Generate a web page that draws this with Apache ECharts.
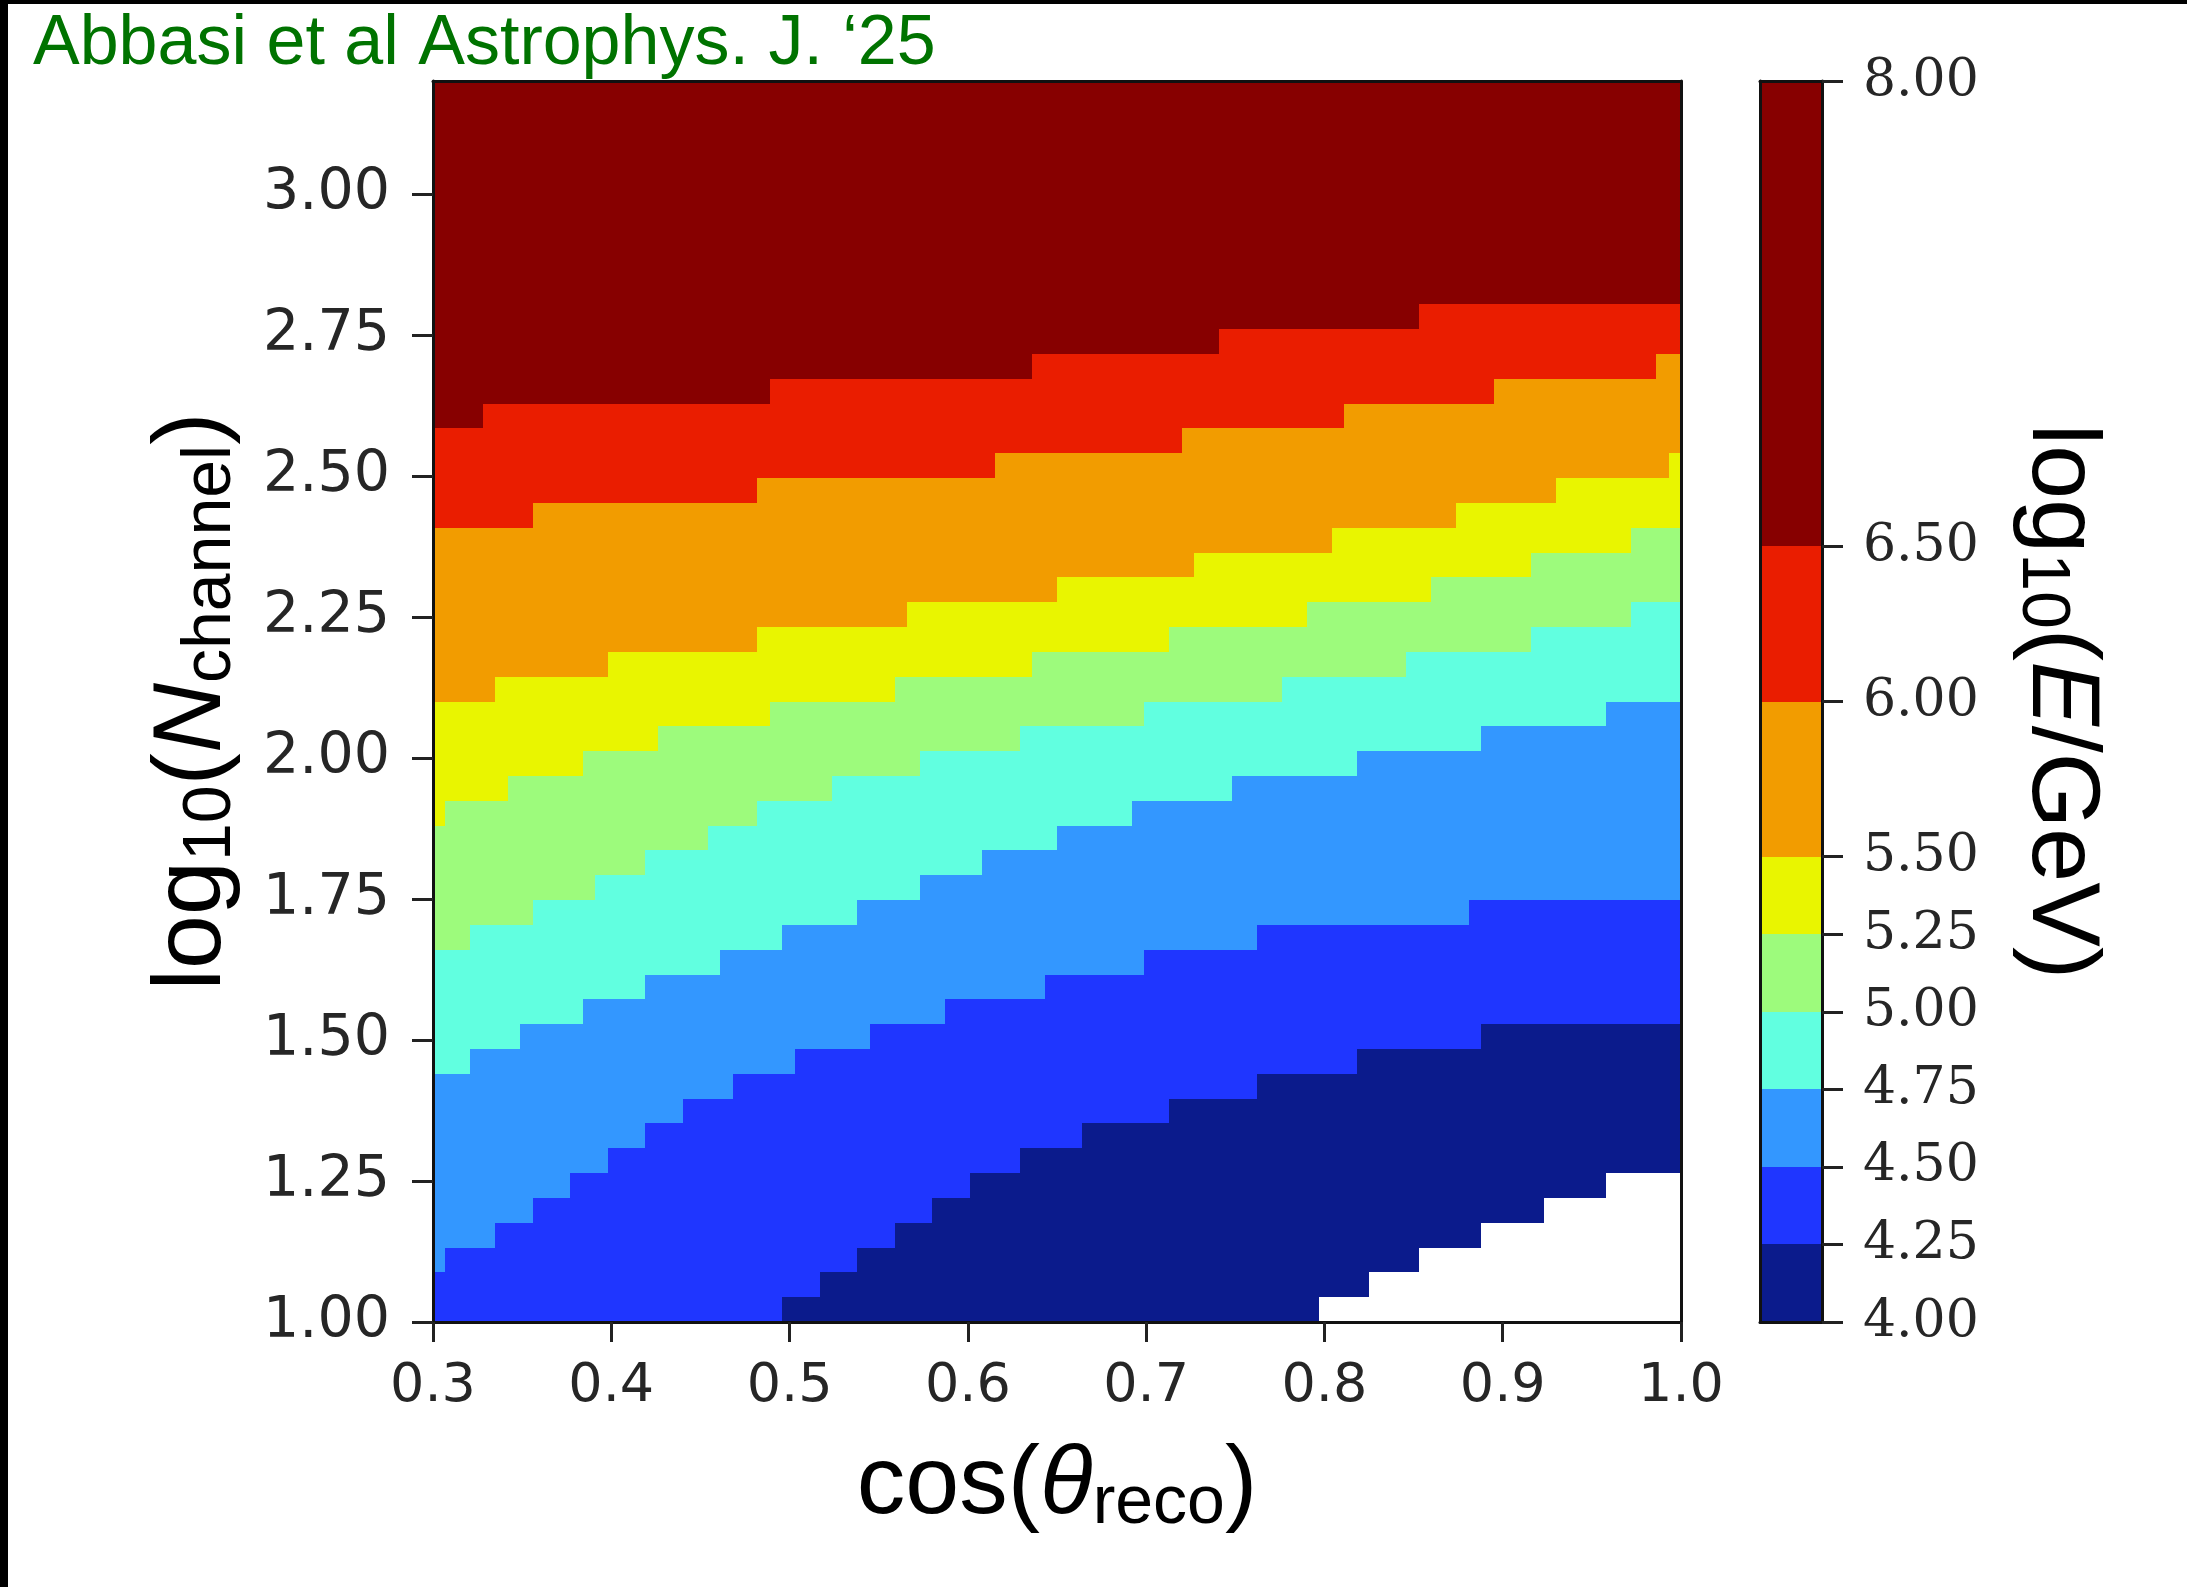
<!DOCTYPE html>
<html>
<head>
<meta charset="utf-8">
<title>log10(E/GeV) map</title>
<script src="https://cdn.jsdelivr.net/npm/echarts@6.0.0/dist/echarts.min.js"></script>
<style>
html, body { margin: 0; padding: 0; background: #fff; }
#main { width: 2187px; height: 1587px; }
</style>
</head>
<body>
<div id="main"></div>
<script>
// tick labels
var xTicks = [0.3, 0.4, 0.5, 0.6, 0.7, 0.8, 0.9, 1.0];
var yTicks = [1.00, 1.25, 1.50, 1.75, 2.00, 2.25, 2.50, 2.75, 3.00];
// colour bar: log10(E/GeV) levels and the colour of each band between them
var levels = [4.00, 4.25, 4.50, 4.75, 5.00, 5.25, 5.50, 6.00, 6.50, 8.00];
var bandColors = ['#0b1b8c', '#1f36ff', '#3397ff', '#61ffe0', '#9dfb7c', '#e9f500', '#f29c00', '#ea1d00', '#870000'];

// staircase edges between the bands:
// from each cos(theta) value on, the edge sits at the given log10(Nchannel)
var edge400X = [0.300, 0.797, 0.825, 0.853, 0.888, 0.923, 0.958];
var edge400Y = [1.000, 1.044, 1.088, 1.132, 1.176, 1.220, 1.264];

var edge425X = [0.300, 0.496, 0.517, 0.538, 0.559, 0.580, 0.601, 0.629, 0.664, 0.713, 0.762, 0.818, 0.888];
var edge425Y = [1.000, 1.044, 1.088, 1.132, 1.176, 1.220, 1.264, 1.308, 1.352, 1.396, 1.440, 1.484, 1.528];

var edge450X = [0.300, 0.307, 0.335, 0.356, 0.377, 0.398, 0.419, 0.440, 0.468, 0.503, 0.545, 0.587, 0.643, 0.699, 0.762, 0.881];
var edge450Y = [1.088, 1.132, 1.176, 1.220, 1.264, 1.308, 1.352, 1.396, 1.440, 1.484, 1.528, 1.572, 1.616, 1.660, 1.704, 1.748];

var edge475X = [0.300, 0.321, 0.349, 0.384, 0.419, 0.461, 0.496, 0.538, 0.573, 0.608, 0.650, 0.692, 0.748, 0.818, 0.888, 0.958];
var edge475Y = [1.440, 1.484, 1.528, 1.572, 1.616, 1.660, 1.704, 1.748, 1.792, 1.836, 1.880, 1.924, 1.968, 2.012, 2.056, 2.100];

var edge500X = [0.300, 0.321, 0.356, 0.391, 0.419, 0.454, 0.482, 0.524, 0.573, 0.629, 0.699, 0.776, 0.846, 0.916, 0.972];
var edge500Y = [1.660, 1.704, 1.748, 1.792, 1.836, 1.880, 1.924, 1.968, 2.012, 2.056, 2.100, 2.144, 2.188, 2.232, 2.276];

var edge525X = [0.300, 0.307, 0.342, 0.384, 0.426, 0.489, 0.559, 0.636, 0.713, 0.790, 0.860, 0.916, 0.972];
var edge525Y = [1.880, 1.924, 1.968, 2.012, 2.056, 2.100, 2.144, 2.188, 2.232, 2.276, 2.320, 2.364, 2.408];

var edge550X = [0.300, 0.335, 0.398, 0.482, 0.566, 0.650, 0.727, 0.804, 0.874, 0.930, 0.993];
var edge550Y = [2.100, 2.144, 2.188, 2.232, 2.276, 2.320, 2.364, 2.408, 2.452, 2.496, 2.540];

var edge600X = [0.300, 0.356, 0.482, 0.615, 0.720, 0.811, 0.895, 0.986];
var edge600Y = [2.408, 2.452, 2.496, 2.540, 2.584, 2.628, 2.672, 2.716];

var edge650X = [0.300, 0.328, 0.489, 0.636, 0.741, 0.853];
var edge650Y = [2.584, 2.628, 2.672, 2.716, 2.760, 2.804];

var edgesX = [edge400X, edge425X, edge450X, edge475X, edge500X, edge525X, edge550X, edge600X, edge650X];
var edgesY = [edge400Y, edge425Y, edge450Y, edge475Y, edge500Y, edge525Y, edge550Y, edge600Y, edge650Y];

function edgeAt(xs, ys, x) {
	var y = ys[0];
	for (var i = 0; i < xs.length; i++) {
		if (xs[i] <= x) y = ys[i];
	}
	return y;
}

// cut the map into vertical strips wherever any edge steps
var cuts = [0.3, 1.0];
edgesX.forEach(function(xs) {
	xs.forEach(function(x) {
		if (cuts.indexOf(x) < 0) cuts.push(x);
	});
});
cuts.sort(function(a, b) { return a - b; });

// one item per band per strip: [x0, x1, y0, y1, band]
var mapCells = [];
for (var c = 0; c < cuts.length - 1; c++) {
	var x0 = cuts[c], x1 = cuts[c + 1], xm = (x0 + x1) / 2;
	var ys = edgesX.map(function(xs, k) { return edgeAt(xs, edgesY[k], xm); });
	ys.push(3.2);
	for (var b = 0; b < bandColors.length; b++) {
		if (ys[b + 1] > ys[b]) mapCells.push([x0, x1, ys[b], ys[b + 1], b]);
	}
}

var barCells = [];
for (var i = 0; i < levels.length - 1; i++) {
	barCells.push([0, 1, levels[i], levels[i + 1], i]);
}

function drawCell(params, api) {
	var a = api.coord([api.value(0), api.value(2)]);
	var b = api.coord([api.value(1), api.value(3)]);
	var x = Math.round(a[0]), y = Math.round(b[1]);
	return {
		type: 'rect',
		shape: { x: x, y: y, width: Math.round(b[0]) - x, height: Math.round(a[1]) - y },
		style: { fill: bandColors[api.value(4)] }
	};
}

var spine = { show: true, onZero: false, lineStyle: { color: '#111', width: 3 } };
var tickStyle = { color: '#222', width: 3 };
var nameRich = {
	n: { fontFamily: 'Liberation Sans', fontSize: 97, color: '#000', lineHeight: 104 },
	i: { fontFamily: 'Liberation Sans', fontStyle: 'italic', fontSize: 97, color: '#000', lineHeight: 104 },
	s: { fontFamily: 'Liberation Sans', fontSize: 68, color: '#000', lineHeight: 42, verticalAlign: 'bottom' }
};

function frameAxis(grid, pos, min, max) {
	return {
		type: 'value', gridIndex: grid, position: pos, min: min, max: max, z: 10,
		axisLine: spine, axisTick: { show: false }, axisLabel: { show: false }, splitLine: { show: false }
	};
}

var chartDom = document.getElementById('main');
var myChart = echarts.init(chartDom);
myChart.setOption({
	animation: false,
	backgroundColor: '#fff',
	title: {
		text: 'Abbasi et al Astrophys. J. \u201825',
		left: 33,
		top: 10,
		padding: 0,
		textStyle: { fontFamily: 'Liberation Sans', fontSize: 70, fontWeight: 'normal', color: '#007300' }
	},
	graphic: [
		{ type: 'rect', left: 0, top: 0, shape: { width: 8, height: 1587 }, style: { fill: '#000' } },
		{ type: 'rect', left: 0, top: 0, shape: { width: 2187, height: 4 }, style: { fill: '#000' } }
	],
	grid: [
		{ left: 433, top: 81, width: 1248, height: 1241, containLabel: false, outerBoundsMode: 'none' },
		{ left: 1760, top: 81, width: 62, height: 1241, containLabel: false, outerBoundsMode: 'none' }
	],
	xAxis: [{
		type: 'value', gridIndex: 0, position: 'bottom', min: 0.3, max: 1.0, z: 10,
		axisLine: spine,
		axisTick: { show: true, length: 20, customValues: xTicks, lineStyle: tickStyle },
		axisLabel: {
			customValues: xTicks, margin: 38,
			formatter: function(v) { return v.toFixed(1); },
			fontFamily: 'DejaVu Sans', fontSize: 54, color: '#262626'
		},
		splitLine: { show: false },
		name: '{n|cos(}{i|\u03b8}{s|reco}{n|)}',
		nameLocation: 'middle',
		nameGap: 112,
		nameTextStyle: { rich: nameRich }
	},
		frameAxis(0, 'top', 0.3, 1.0),
		frameAxis(1, 'bottom', 0, 1),
		frameAxis(1, 'top', 0, 1)
	],
	yAxis: [{
		type: 'value', gridIndex: 0, position: 'left', min: 1.0, max: 3.2, z: 10,
		axisLine: spine,
		axisTick: { show: true, length: 21, customValues: yTicks, lineStyle: tickStyle },
		axisLabel: {
			customValues: yTicks, margin: 43,
			formatter: function(v) { return v.toFixed(2); },
			fontFamily: 'DejaVu Sans', fontSize: 57, color: '#262626'
		},
		splitLine: { show: false },
		name: '{n|log}{s|10}{n|(}{i|N}{s|channel}{n|)}',
		nameLocation: 'middle',
		nameGap: 188,
		nameTextStyle: { rich: nameRich }
	},
		frameAxis(0, 'right', 1.0, 3.2),
		frameAxis(1, 'left', 4, 8),
	{
		type: 'value', gridIndex: 1, position: 'right', min: 4, max: 8, z: 10,
		axisLine: spine,
		axisTick: { show: true, length: 21, customValues: levels, lineStyle: tickStyle },
		axisLabel: {
			customValues: levels, margin: 41,
			formatter: function(v) { return v.toFixed(2); },
			fontFamily: 'DejaVu Serif', fontSize: 52, color: '#262626'
		},
		splitLine: { show: false },
		name: '{n|log}{s|10}{n|(}{i|E}{n|/GeV)}',
		nameLocation: 'middle',
		nameRotate: -90,
		nameGap: 186,
		nameTextStyle: { rich: nameRich }
	}],
	series: [{
		type: 'custom',
		xAxisIndex: 0,
		yAxisIndex: 0,
		silent: true,
		renderItem: drawCell,
		encode: { x: [0, 1], y: [2, 3] },
		data: mapCells
	}, {
		type: 'custom',
		xAxisIndex: 2,
		yAxisIndex: 3,
		silent: true,
		renderItem: drawCell,
		encode: { x: [0, 1], y: [2, 3] },
		data: barCells
	}]
});
</script>
</body>
</html>
